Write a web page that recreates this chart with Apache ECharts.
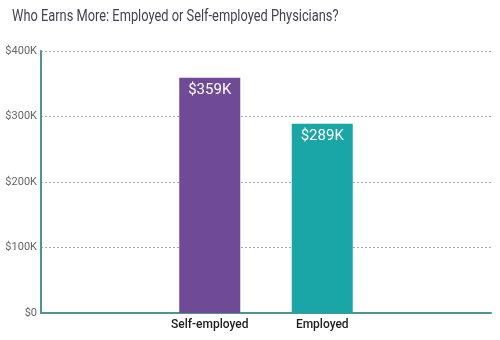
<!DOCTYPE html>
<html>
<head>
<meta charset="utf-8">
<script src="https://cdn.jsdelivr.net/npm/echarts@6/dist/echarts.min.js"></script>
<style>html,body{margin:0;padding:0;background:#fff}#c{width:500px;height:340px}</style>
</head>
<body>
<div id="c"></div>
<script>
const titleText = 'Who Earns More: Employed or Self-employed Physicians?';
const categories = ['', 'Self-employed', 'Employed', ''];
const values = [null, 359, 289, null];
const barColors = ['#6f4a96', '#6f4a96', '#1aa6a6', '#1aa6a6'];
const yTicks = [0, 100, 200, 300, 400];
const FONT = 'Roboto';

const chart = echarts.init(document.getElementById('c'));
chart.setOption({
  animation: false,
  graphic: [{
    type: 'text', left: 12, top: 8, scaleX: 0.755,
    style: { text: titleText, fontFamily: FONT, fontSize: 17, fill: '#463f52' }
  }],
  grid: { left: 41, right: 9, top: 51, bottom: 27 },
  xAxis: {
    type: 'category',
    data: categories,
    axisLine: { lineStyle: { color: '#4f9494', width: 2 } },
    axisTick: { show: false },
    axisLabel: { interval: 0, margin: 6, fontFamily: FONT, fontSize: 12, fontWeight: 500, color: '#1e1e1e' }
  },
  yAxis: {
    type: 'value',
    min: yTicks[0], max: yTicks[yTicks.length - 1], interval: 100,
    axisLine: { show: true, lineStyle: { color: '#4f9494', width: 2 } },
    axisTick: { show: false },
    axisLabel: { margin: 4, fontFamily: FONT, fontSize: 11, color: '#666', formatter: v => v === 0 ? '$0' : '$' + v + 'K' },
    splitLine: { lineStyle: { color: '#aaa', type: [2, 2], width: 1 } }
  },
  series: [{
    type: 'bar',
    data: values.map((v, i) => ({ value: v, itemStyle: { color: barColors[i] } })),
    barWidth: 61,
    itemStyle: {
      decal: { symbol: 'circle', symbolSize: 0.25, dashArrayX: [[1, 0]], dashArrayY: [1, 0], color: 'rgba(255,255,255,0.12)' }
    },
    label: {
      show: true, position: 'insideTop', distance: 5,
      fontFamily: FONT, fontSize: 15, color: '#fff',
      formatter: p => '$' + p.value + 'K'
    }
  }]
});
</script>
</body>
</html>
